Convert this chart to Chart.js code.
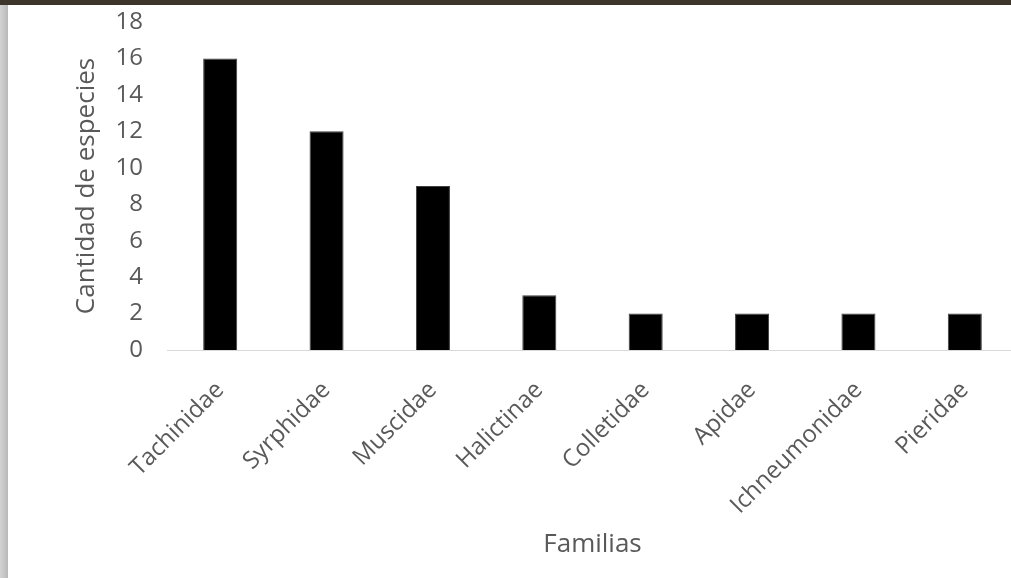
<!DOCTYPE html>
<html>
<head>
<meta charset="utf-8">
<script src="https://cdn.jsdelivr.net/npm/chart.js@4.4.0/dist/chart.umd.min.js"></script>
<style>
  html, body { margin: 0; padding: 0; background: #ffffff; overflow: hidden; width: 1011px; height: 578px; }
  #wrap { position: absolute; left: 0; top: 0; width: 1020px; height: 578px; }
  #topbar { position: absolute; left: 0; top: 0; width: 1011px; height: 5px; background: #3d342a; z-index: 2; }
  #leftbar { position: absolute; left: 0; top: 0; width: 8px; height: 578px; background: linear-gradient(to right, #d2d2d2, #c4c4c4 60%, #b8b8b8); z-index: 1; }
</style>
</head>
<body>
<div id="wrap"><canvas id="c" width="1020" height="578"></canvas></div>
<div id="leftbar"></div>
<div id="topbar"></div>
<script>
const categories = ["Tachinidae", "Syrphidae", "Muscidae", "Halictinae", "Colletidae", "Apidae", "Ichneumonidae", "Pieridae"];
const especies = [16, 12, 9, 3, 2, 2, 2, 2];
const yTicks = [0, 2, 4, 6, 8, 10, 12, 14, 16, 18];

const textColor = '#595959';
const fontFamily = "'Open Sans', sans-serif";

new Chart(document.getElementById('c'), {
  type: 'bar',
  data: {
    labels: categories,
    datasets: [{
      data: especies,
      backgroundColor: '#000000',
      borderColor: '#3f3f3f',
      borderWidth: 1,
      categoryPercentage: 1,
      barPercentage: 0.32
    }]
  },
  options: {
    responsive: false,
    animation: false,
    devicePixelRatio: 1,
    layout: { padding: { left: 71, right: 2, top: 0, bottom: 18 } },
    plugins: { legend: { display: false }, tooltip: { enabled: false } },
    scales: {
      x: {
        grid: { display: false, drawTicks: false },
        border: { display: true, color: '#d9d9d9', width: 1 },
        ticks: {
          color: textColor,
          font: { family: fontFamily, size: 24 },
          minRotation: 45, maxRotation: 45,
          padding: 26,
          autoSkip: false
        },
        title: {
          display: true, text: 'Familias', color: textColor,
          font: { family: fontFamily, size: 26 },
          padding: { top: 0, bottom: 0 }
        },
        afterFit: (s) => { s.height = 578 - 350 - 18; }
      },
      y: {
        min: 0, max: 18,
        afterBuildTicks: (s) => { s.ticks = yTicks.map(v => ({ value: v })); },
        grid: { display: false, drawTicks: false },
        border: { display: false },
        ticks: {
          color: textColor,
          font: { family: fontFamily, size: 24 },
          padding: 24
        },
        title: {
          display: true, text: 'Cantidad de especies', color: textColor,
          font: { family: fontFamily, size: 26 },
          padding: { top: 0, bottom: 0 }
        },
        afterFit: (s) => { s.width = 167 - 71; s.paddingTop = 22; s.paddingBottom = 0; }
      }
    }
  }
});
</script>
</body>
</html>
